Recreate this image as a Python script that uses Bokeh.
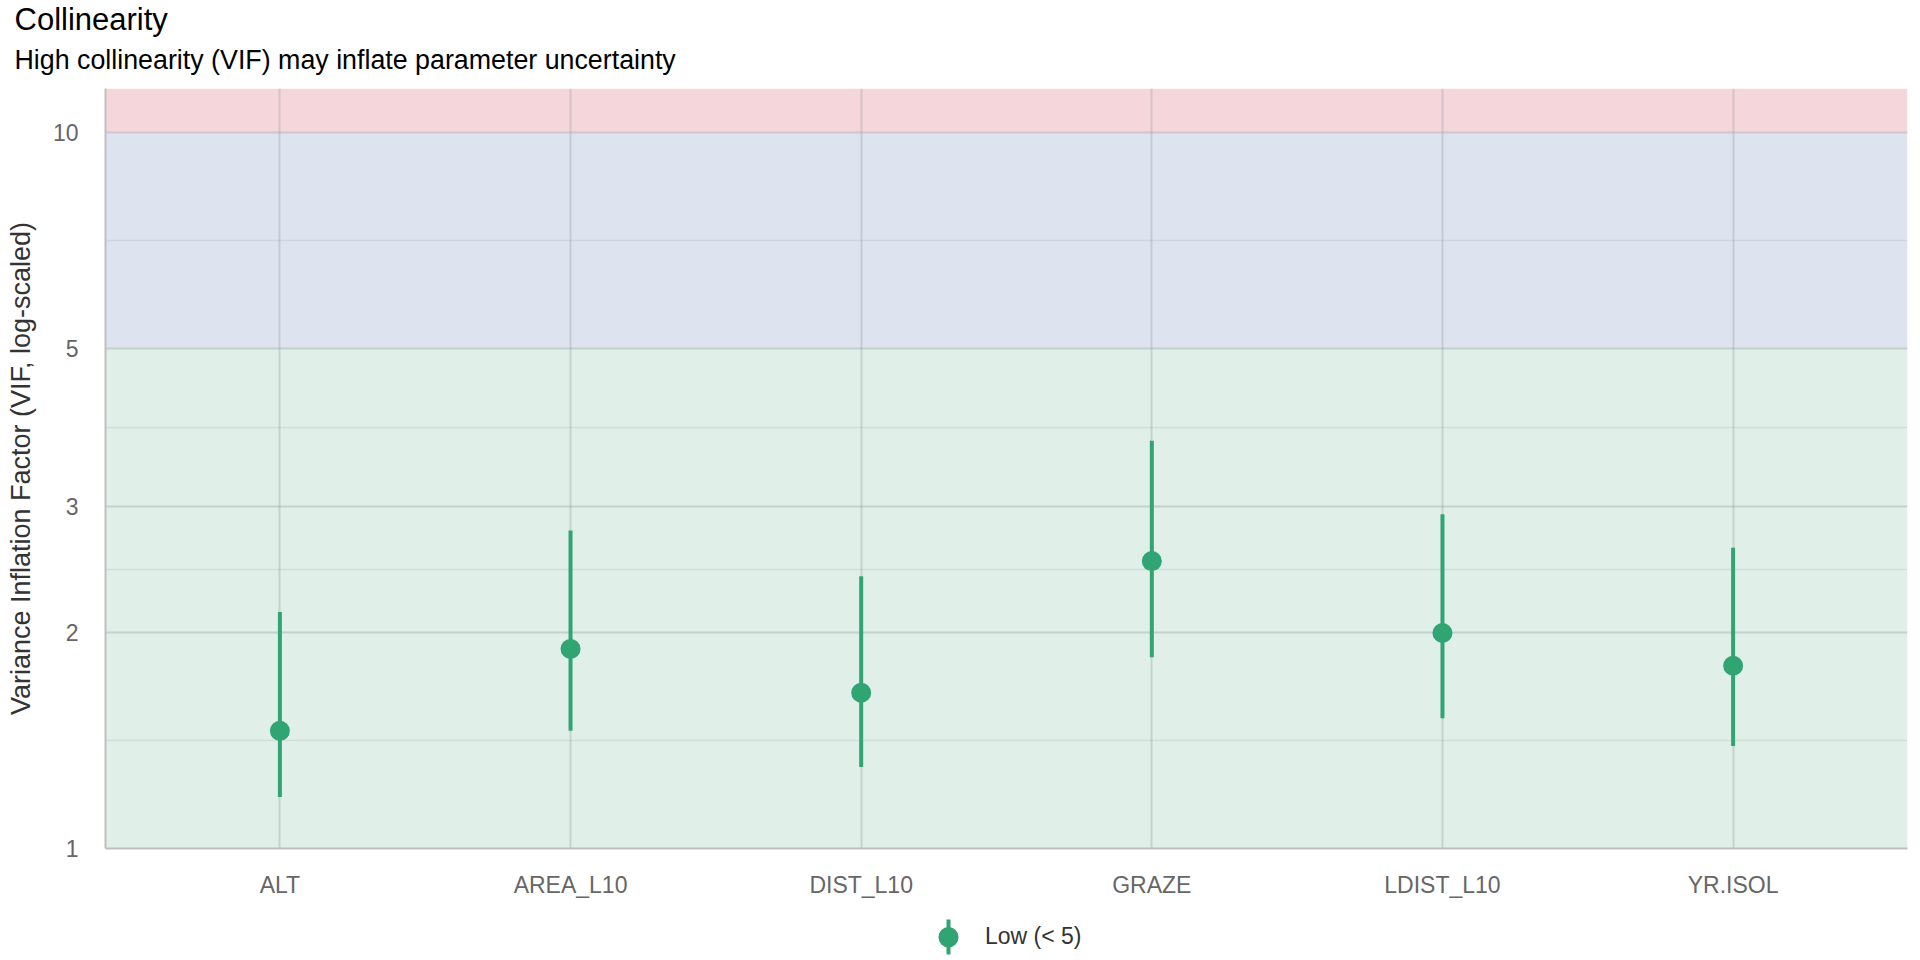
from bokeh.plotting import figure
from bokeh.layouts import column
from bokeh.models import (FactorRange, Range1d, FixedTicker, NumeralTickFormatter,
                          BoxAnnotation, Legend, LegendItem, Title, ColumnDataSource)
from bokeh.embed import file_html
from bokeh.resources import INLINE

# ---- data ----
terms = ["ALT", "AREA_L10", "DIST_L10", "GRAZE", "LDIST_L10", "YR.ISOL"]
vif = [1.46, 1.90, 1.65, 2.52, 2.00, 1.80]
ci_low = [1.18, 1.46, 1.30, 1.85, 1.52, 1.39]
ci_high = [2.14, 2.78, 2.40, 3.71, 2.93, 2.63]
y_ticks = [1, 2, 3, 5, 10]
y_minor = [1.414, 2.449, 3.873, 7.071]
band_low = [1, 5, 10]
band_high = [5, 10, None]
band_colors = ["#e0f0e8", "#dee4ef", "#f5d7db"]
legend_label = "Low (< 5)"

FONT = "Liberation Sans"
GREEN = "#31a474"

# layout constants (page pixels)
FRAME_L, FRAME_R = 105, 1907
BORDER_R = 1920 - FRAME_R

src = ColumnDataSource(dict(term=terms, vif=vif, lo=ci_low, hi=ci_high))

p = figure(
    x_range=FactorRange(factors=terms, range_padding=0.1, range_padding_units="absolute"),
    y_range=Range1d(1, 11.52), y_axis_type="log",
    width=1920, height=900, output_backend="svg", toolbar_location=None,
    min_border_left=FRAME_L, min_border_right=BORDER_R, min_border_top=88, min_border_bottom=50,
)
p.outline_line_color = None
p.background_fill_color = "white"
p.border_fill_color = "white"

for b0, b1, c in zip(band_low, band_high, band_colors):
    kw = dict(bottom=b0, fill_color=c, fill_alpha=1.0, line_color=None, level="image")
    if b1 is not None:
        kw["top"] = b1
    p.add_layout(BoxAnnotation(**kw))

# grids
p.yaxis.ticker = FixedTicker(ticks=y_ticks, minor_ticks=y_minor)
p.ygrid.grid_line_color = "#8a9099"
p.ygrid.grid_line_alpha = 0.32
p.ygrid.grid_line_width = 2
p.ygrid.minor_grid_line_color = "#8a9099"
p.ygrid.minor_grid_line_alpha = 0.18
p.ygrid.minor_grid_line_width = 1.3
p.xgrid.grid_line_color = "#8a9099"
p.xgrid.grid_line_alpha = 0.3
p.xgrid.grid_line_width = 2

# axes
for ax in (p.xaxis[0], p.yaxis[0]):
    ax.axis_line_color = "#bfbfbf"
    ax.axis_line_width = 2
    ax.major_tick_line_color = None
    ax.minor_tick_line_color = None
    ax.major_tick_out = 0
    ax.major_tick_in = 0
    ax.minor_tick_out = 0
    ax.minor_tick_in = 0
    ax.major_label_text_font = FONT
    ax.major_label_text_font_size = "23px"
    ax.major_label_text_color = "#666666"

p.yaxis.formatter = NumeralTickFormatter(format="0")
p.yaxis.major_label_standoff = 27
p.yaxis.axis_label = "Variance Inflation Factor (VIF, log-scaled)"
p.yaxis.axis_label_text_font = FONT
p.yaxis.axis_label_text_font_size = "27px"
p.yaxis.axis_label_text_font_style = "normal"
p.yaxis.axis_label_text_color = "#333333"
p.yaxis.axis_label_standoff = 14
p.xaxis.major_label_standoff = 23

# error bars + points
seg = p.segment(x0="term", y0="lo", x1="term", y1="hi", source=src,
                line_color=GREEN, line_width=4)
pts = p.scatter(x="term", y="vif", source=src, size=20, fill_color=GREEN,
                line_color=GREEN, line_width=0)

# titles
p.add_layout(Title(text="High collinearity (VIF) may inflate parameter uncertainty",
                   text_font=FONT, text_font_size="26.8px", text_font_style="normal",
                   text_color="black", align="left", offset=-91, standoff=27), "above")
p.add_layout(Title(text="Collinearity", text_font=FONT, text_font_size="31px",
                   text_font_style="normal", text_color="black", align="left",
                   offset=-91, standoff=-15), "above")

# ---- legend strip (x in page pixels, frame aligned with the main plot) ----
LEG_H = 60
KEY_W, KEY_H = 48, 48
KEY_LEFT = 924                    # page x of the legend key's left edge
KEY_CX = KEY_LEFT + KEY_W / 2     # page x of the key centre
KEY_CY = 23                       # px above the strip bottom
BAR_LO, BAR_HI = 6, 41            # vertical bar of the key, px above strip bottom

lf = figure(width=1920, height=LEG_H, x_range=Range1d(FRAME_L, FRAME_R),
            y_range=Range1d(0, LEG_H),
            output_backend="svg", toolbar_location=None,
            x_axis_location=None, y_axis_location=None,
            min_border_left=FRAME_L, min_border_right=BORDER_R,
            min_border_top=0, min_border_bottom=0)
lf.outline_line_color = None
lf.xgrid.visible = False
lf.ygrid.visible = False
lf.border_fill_color = "white"
lf.background_fill_color = "white"

lf.segment(x0=[KEY_CX], y0=[BAR_LO], x1=[KEY_CX], y1=[BAR_HI],
           line_color=GREEN, line_width=4)
key = lf.scatter(x=[KEY_CX], y=[KEY_CY], size=20, fill_color=GREEN,
                 line_color=GREEN, line_width=0)

legend = Legend(items=[LegendItem(label=legend_label, renderers=[key])],
                orientation="horizontal", location=(KEY_LEFT - FRAME_L, 0),
                glyph_width=KEY_W, glyph_height=KEY_H, label_standoff=13,
                label_text_font=FONT, label_text_font_size="23px",
                label_text_color="#333333", border_line_color=None,
                background_fill_alpha=0, padding=0, margin=0, spacing=0)
lf.add_layout(legend)

layout = column(p, lf, spacing=0)
open("out.html", "w").write(file_html(layout, INLINE))
